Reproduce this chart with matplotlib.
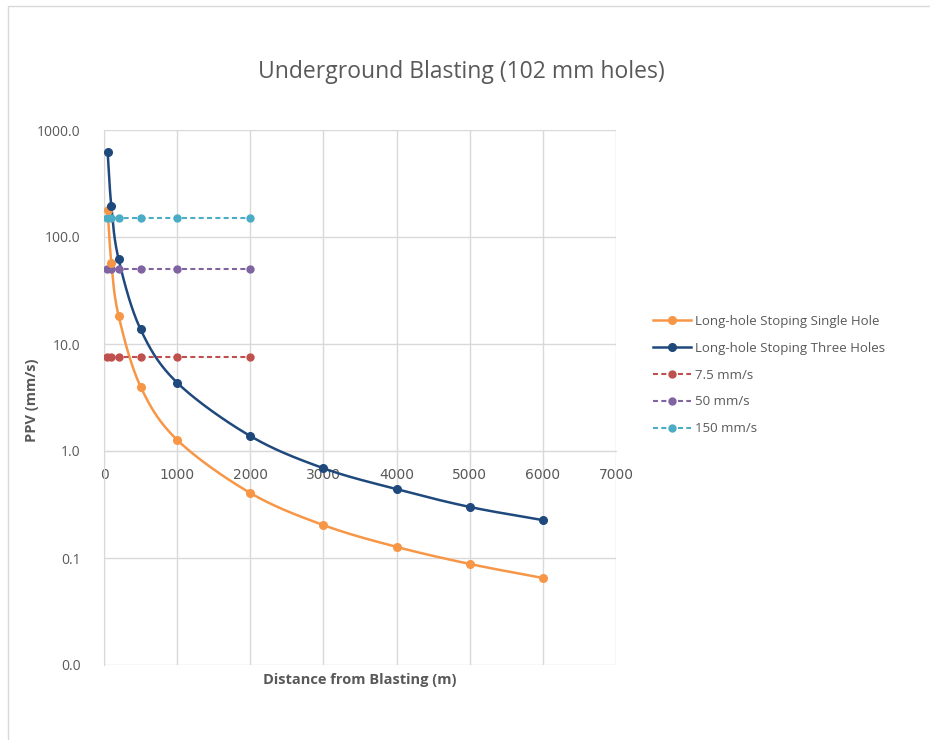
import matplotlib.pyplot as plt
from matplotlib.patches import Rectangle
from matplotlib.lines import Line2D
import numpy as np

# distances (m)
dist = [50, 100, 200, 500, 1000, 2000, 3000, 4000, 5000, 6000]
single_hole = [179, 57.5, 18.3, 4.0, 1.27, 0.405, 0.203, 0.127, 0.088, 0.065]
three_holes = [620, 195, 62, 13.7, 4.35, 1.38, 0.69, 0.44, 0.30, 0.226]

limit_dist = [40, 100, 200, 500, 1000, 2000]
limit_7_5 = [7.5, 7.5, 7.5, 7.5, 7.5, 7.5]
limit_50 = [50, 50, 50, 50, 50, 50]
limit_150 = [150, 150, 150, 150, 150, 150]

x_ticks = [0, 1000, 2000, 3000, 4000, 5000, 6000, 7000]
y_ticks = [0.01, 0.1, 1, 10, 100, 1000]
y_labels = ['0.0', '0.1', '1.0', '10.0', '100.0', '1000.0']

FONT = 'Open Sans'
GREY = '#595959'
DASH = (2.4, 1.6)


def smooth(x, y, n=30):
    # Catmull-Rom through the points in (x, log y) space, like Excel's smoothed line
    x = np.asarray(x, float)
    ly = np.log10(y)
    sx, sy = 73.1 / 1000, 107.0
    P = np.column_stack([x * sx, ly * sy])
    P = np.vstack([2 * P[0] - P[1], P, 2 * P[-1] - P[-2]])
    out = []
    t = np.linspace(0, 1, n)
    for i in range(1, len(P) - 2):
        p0, p1, p2, p3 = P[i - 1], P[i], P[i + 1], P[i + 2]
        for tt in t:
            pt = 0.5 * ((2 * p1) + (-p0 + p2) * tt + (2 * p0 - 5 * p1 + 4 * p2 - p3) * tt ** 2
                        + (-p0 + 3 * p1 - 3 * p2 + p3) * tt ** 3)
            out.append(pt)
    out = np.array(out)
    return out[:, 0] / sx, 10 ** (out[:, 1] / sy)


fig = plt.figure(figsize=(9.3, 7.4), dpi=100)
fig.patches.append(Rectangle((8 / 930, -0.01), 1.0, (740 - 6) / 740 + 0.01,
                             transform=fig.transFigure, fill=False,
                             edgecolor='#d9d9d9', linewidth=1))

ax = fig.add_axes([104 / 930, 75 / 740, 512 / 930, 535 / 740])
ax.set_yscale('log')
ax.set_xlim(0, 7000)
ax.set_ylim(0.01, 1000)

sx, sy = smooth(dist, single_hole)
ax.plot(sx, sy, color='#F79646', lw=1.8, zorder=3)
ax.plot(dist, single_hole, 'o', color='#F79646', ms=5.5, zorder=4)
tx, ty = smooth(dist, three_holes)
ax.plot(tx, ty, color='#1F497D', lw=1.8, zorder=3)
ax.plot(dist, three_holes, 'o', color='#1F497D', ms=5.5, zorder=4)

ax.plot(limit_dist, limit_7_5, 'o--', color='#C0504D', lw=1.5, ms=5, dashes=DASH, zorder=3)
ax.plot(limit_dist, limit_50, 'o--', color='#8064A2', lw=1.5, ms=5, dashes=DASH, zorder=3)
ax.plot(limit_dist, limit_150, 'o--', color='#4BACC6', lw=1.5, ms=5, dashes=DASH, zorder=3)

ax.set_xticks(x_ticks)
ax.set_yticks(y_ticks)
ax.set_yticklabels(y_labels)
ax.yaxis.set_minor_locator(plt.NullLocator())
ax.grid(True, color='#d9d9d9', lw=1)
ax.set_axisbelow(True)
ax.tick_params(length=0, labelsize=10, labelcolor=GREY)
ax.tick_params(axis='y', pad=17)
ax.tick_params(axis='x', pad=12)
for lab in ax.get_xticklabels() + ax.get_yticklabels():
    lab.set_family(FONT)

ax.spines['bottom'].set_position(('data', 1))
ax.spines['bottom'].set_color('#d9d9d9')
ax.spines['left'].set_color('#d9d9d9')
ax.spines['top'].set_visible(False)
ax.spines['right'].set_visible(False)

fig.text(461 / 930, 1 - 72 / 740, 'Underground Blasting (102 mm holes)', ha='center', va='center',
         fontsize=16.5, color=GREY, family=FONT)
fig.text(360 / 930, 1 - 680 / 740, 'Distance from Blasting (m)', ha='center', va='center',
         fontsize=10.5, color=GREY, weight='bold', family=FONT)
fig.text(32 / 930, 1 - 400 / 740, 'PPV (mm/s)', ha='center', va='center', rotation=90,
         fontsize=10.5, color=GREY, weight='bold', family=FONT)

handles = [
    Line2D([], [], color='#F79646', lw=1.8, marker='o', ms=5.5),
    Line2D([], [], color='#1F497D', lw=1.8, marker='o', ms=5.5),
    Line2D([], [], color='#C0504D', lw=1.5, marker='o', ms=5, ls='--', dashes=DASH),
    Line2D([], [], color='#8064A2', lw=1.5, marker='o', ms=5, ls='--', dashes=DASH),
    Line2D([], [], color='#4BACC6', lw=1.5, marker='o', ms=5, ls='--', dashes=DASH),
]
labels = ['Long-hole Stoping Single Hole', 'Long-hole Stoping Three Holes',
          '7.5 mm/s', '50 mm/s', '150 mm/s']
fig.legend(handles, labels, loc='center left', bbox_to_anchor=(641 / 930, 1 - 375 / 740),
           frameon=False, prop={'family': FONT, 'size': 9.5}, handlelength=2.9,
           handletextpad=0.3, labelspacing=1.05, labelcolor=GREY)

fig.savefig('out.png', dpi=100)
